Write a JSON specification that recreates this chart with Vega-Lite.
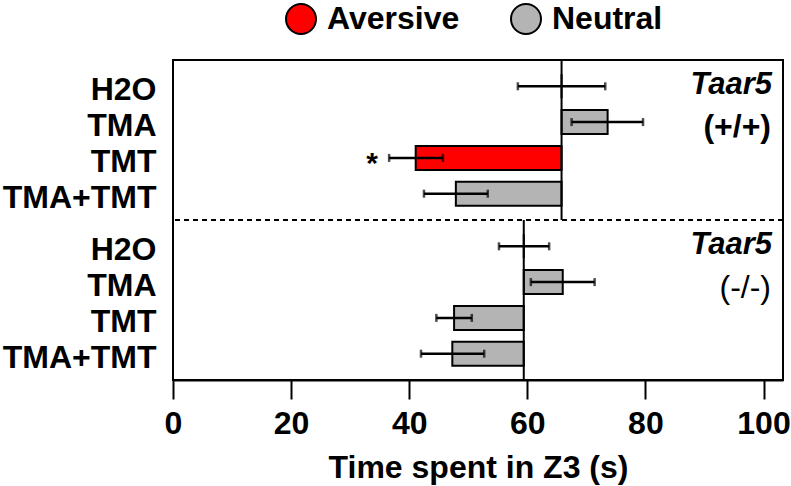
{
  "$schema": "https://vega.github.io/schema/vega-lite/v6.json",
  "width": 610,
  "height": 320,
  "autosize": {"type": "none"},
  "padding": {"left": 173, "top": 60, "right": 8, "bottom": 106},
  "background": "white",
  "config": {
    "view": {"stroke": "black", "strokeWidth": 2},
    "font": "Liberation Sans",
    "axis": {"labelColor": "black", "titleColor": "black"}
  },
  "datasets": {
    "main": [
      {"genotype": "+/+", "treatment": "H2O", "type": "Neutral", "mean": 65.8, "base": 65.8, "lo": 58.4, "hi": 73.2, "sig": ""},
      {"genotype": "+/+", "treatment": "TMA", "type": "Neutral", "mean": 73.6, "base": 65.8, "lo": 67.5, "hi": 79.6, "sig": ""},
      {"genotype": "+/+", "treatment": "TMT", "type": "Aversive", "mean": 41.1, "base": 65.8, "lo": 36.6, "hi": 45.7, "sig": "*"},
      {"genotype": "+/+", "treatment": "TMA+TMT", "type": "Neutral", "mean": 47.9, "base": 65.8, "lo": 42.5, "hi": 53.3, "sig": ""},
      {"genotype": "-/-", "treatment": "H2O", "type": "Neutral", "mean": 59.4, "base": 59.4, "lo": 55.2, "hi": 63.7, "sig": ""},
      {"genotype": "-/-", "treatment": "TMA", "type": "Neutral", "mean": 66.0, "base": 59.4, "lo": 60.6, "hi": 71.4, "sig": ""},
      {"genotype": "-/-", "treatment": "TMT", "type": "Neutral", "mean": 47.6, "base": 59.4, "lo": 44.6, "hi": 50.6, "sig": ""},
      {"genotype": "-/-", "treatment": "TMA+TMT", "type": "Neutral", "mean": 47.3, "base": 59.4, "lo": 42.0, "hi": 52.7, "sig": ""}
    ],
    "bases": [
      {"genotype": "+/+", "base": 65.8},
      {"genotype": "-/-", "base": 59.4}
    ],
    "labels": [
      {"genotype": "+/+", "treatment": "H2O", "label": "Taar5", "kind": "gene"},
      {"genotype": "-/-", "treatment": "H2O", "label": "Taar5", "kind": "gene"},
      {"genotype": "+/+", "treatment": "TMA", "label": "(+/+)", "kind": "wt"},
      {"genotype": "-/-", "treatment": "TMA", "label": "(-/-)", "kind": "ko"}
    ],
    "divider": [{"genotype": "-/-"}]
  },
  "encoding": {
    "y": {"field": "genotype", "type": "nominal", "scale": {"domain": ["+/+", "-/-"], "paddingInner": 0, "paddingOuter": 0}, "axis": null},
    "yOffset": {"field": "treatment", "type": "nominal", "scale": {"domain": ["H2O", "TMA", "TMT", "TMA+TMT"], "paddingInner": 0.33, "paddingOuter": 0.4}}
  },
  "layer": [
    {
      "data": {"name": "main"},
      "mark": {"type": "bar", "stroke": "black", "strokeWidth": 2},
      "encoding": {
        "x": {"field": "mean", "type": "quantitative", "scale": {"domain": [0, 103.3], "nice": false, "zero": false},
          "axis": {"values": [0, 20, 40, 60, 80, 100], "grid": false, "domainColor": "black", "domainWidth": 2, "tickColor": "black", "tickWidth": 2, "tickSize": 19,
            "labelFontSize": 32, "labelFontWeight": "bold", "labelPadding": 9, "labelFlush": false,
            "title": "Time spent in Z3 (s)", "titleFontSize": 32, "titleFontWeight": "bold", "titlePadding": 13}},
        "x2": {"field": "base"},
        "fill": {"field": "type", "type": "nominal", "scale": {"domain": ["Aversive", "Neutral"], "range": ["#FF0000", "#B4B4B4"]},
          "legend": {"orient": "none", "legendX": 112, "legendY": -57, "direction": "horizontal", "title": null, "symbolType": "circle", "symbolSize": 900,
            "symbolStrokeColor": "black", "symbolStrokeWidth": 2, "labelFontSize": 32, "labelFontWeight": "bold", "labelColor": "black", "labelOffset": 10, "columnPadding": 47, "labelLimit": 300}}
      }
    },
    {
      "data": {"name": "bases"},
      "mark": {"type": "bar", "fill": "black", "stroke": "black", "strokeWidth": 2},
      "encoding": {
        "x": {"field": "base", "type": "quantitative"},
        "x2": {"field": "base"},
        "yOffset": null
      }
    },
    {
      "data": {"name": "divider"},
      "mark": {"type": "rule", "color": "black", "strokeWidth": 2, "strokeDash": [5, 4]},
      "encoding": {
        "y": {"field": "genotype", "type": "nominal", "bandPosition": 0},
        "yOffset": null
      }
    },
    {
      "data": {"name": "main"},
      "mark": {"type": "rule", "color": "black", "strokeWidth": 2.5},
      "encoding": {
        "x": {"field": "lo", "type": "quantitative"},
        "x2": {"field": "hi"}
      }
    },
    {
      "data": {"name": "main"},
      "mark": {"type": "tick", "color": "black", "thickness": 2.5, "size": 8, "orient": "vertical"},
      "encoding": {
        "x": {"field": "lo", "type": "quantitative"}
      }
    },
    {
      "data": {"name": "main"},
      "mark": {"type": "tick", "color": "black", "thickness": 2.5, "size": 8, "orient": "vertical"},
      "encoding": {
        "x": {"field": "hi", "type": "quantitative"}
      }
    },
    {
      "data": {"name": "main"},
      "mark": {"type": "text", "fontSize": 30, "fontWeight": "bold", "align": "center", "baseline": "alphabetic", "dx": -17, "dy": 15, "color": "black"},
      "encoding": {
        "x": {"field": "lo", "type": "quantitative"},
        "text": {"field": "sig"}
      }
    },
    {
      "data": {"name": "main"},
      "mark": {"type": "text", "fontSize": 32, "fontWeight": "bold", "align": "right", "baseline": "middle", "dx": -16.5, "dy": 4, "color": "black"},
      "encoding": {
        "x": {"datum": 0},
        "text": {"field": "treatment"}
      }
    },
    {
      "data": {"name": "labels"},
      "transform": [{"filter": "datum.kind === 'gene'"}],
      "mark": {"type": "text", "fontSize": 31, "fontWeight": "bold", "fontStyle": "italic", "align": "right", "baseline": "middle", "dx": -11, "dy": -1, "color": "black"},
      "encoding": {
        "x": {"datum": 103.3},
        "text": {"field": "label"}
      }
    },
    {
      "data": {"name": "labels"},
      "transform": [{"filter": "datum.kind === 'wt'"}],
      "mark": {"type": "text", "fontSize": 32, "fontWeight": "bold", "align": "right", "baseline": "middle", "dx": -12, "dy": 5, "color": "black"},
      "encoding": {
        "x": {"datum": 103.3},
        "text": {"field": "label"}
      }
    },
    {
      "data": {"name": "labels"},
      "transform": [{"filter": "datum.kind === 'ko'"}],
      "mark": {"type": "text", "fontSize": 32, "fontWeight": "normal", "align": "right", "baseline": "middle", "dx": -12, "dy": 6, "color": "black"},
      "encoding": {
        "x": {"datum": 103.3},
        "text": {"field": "label"}
      }
    }
  ]
}
